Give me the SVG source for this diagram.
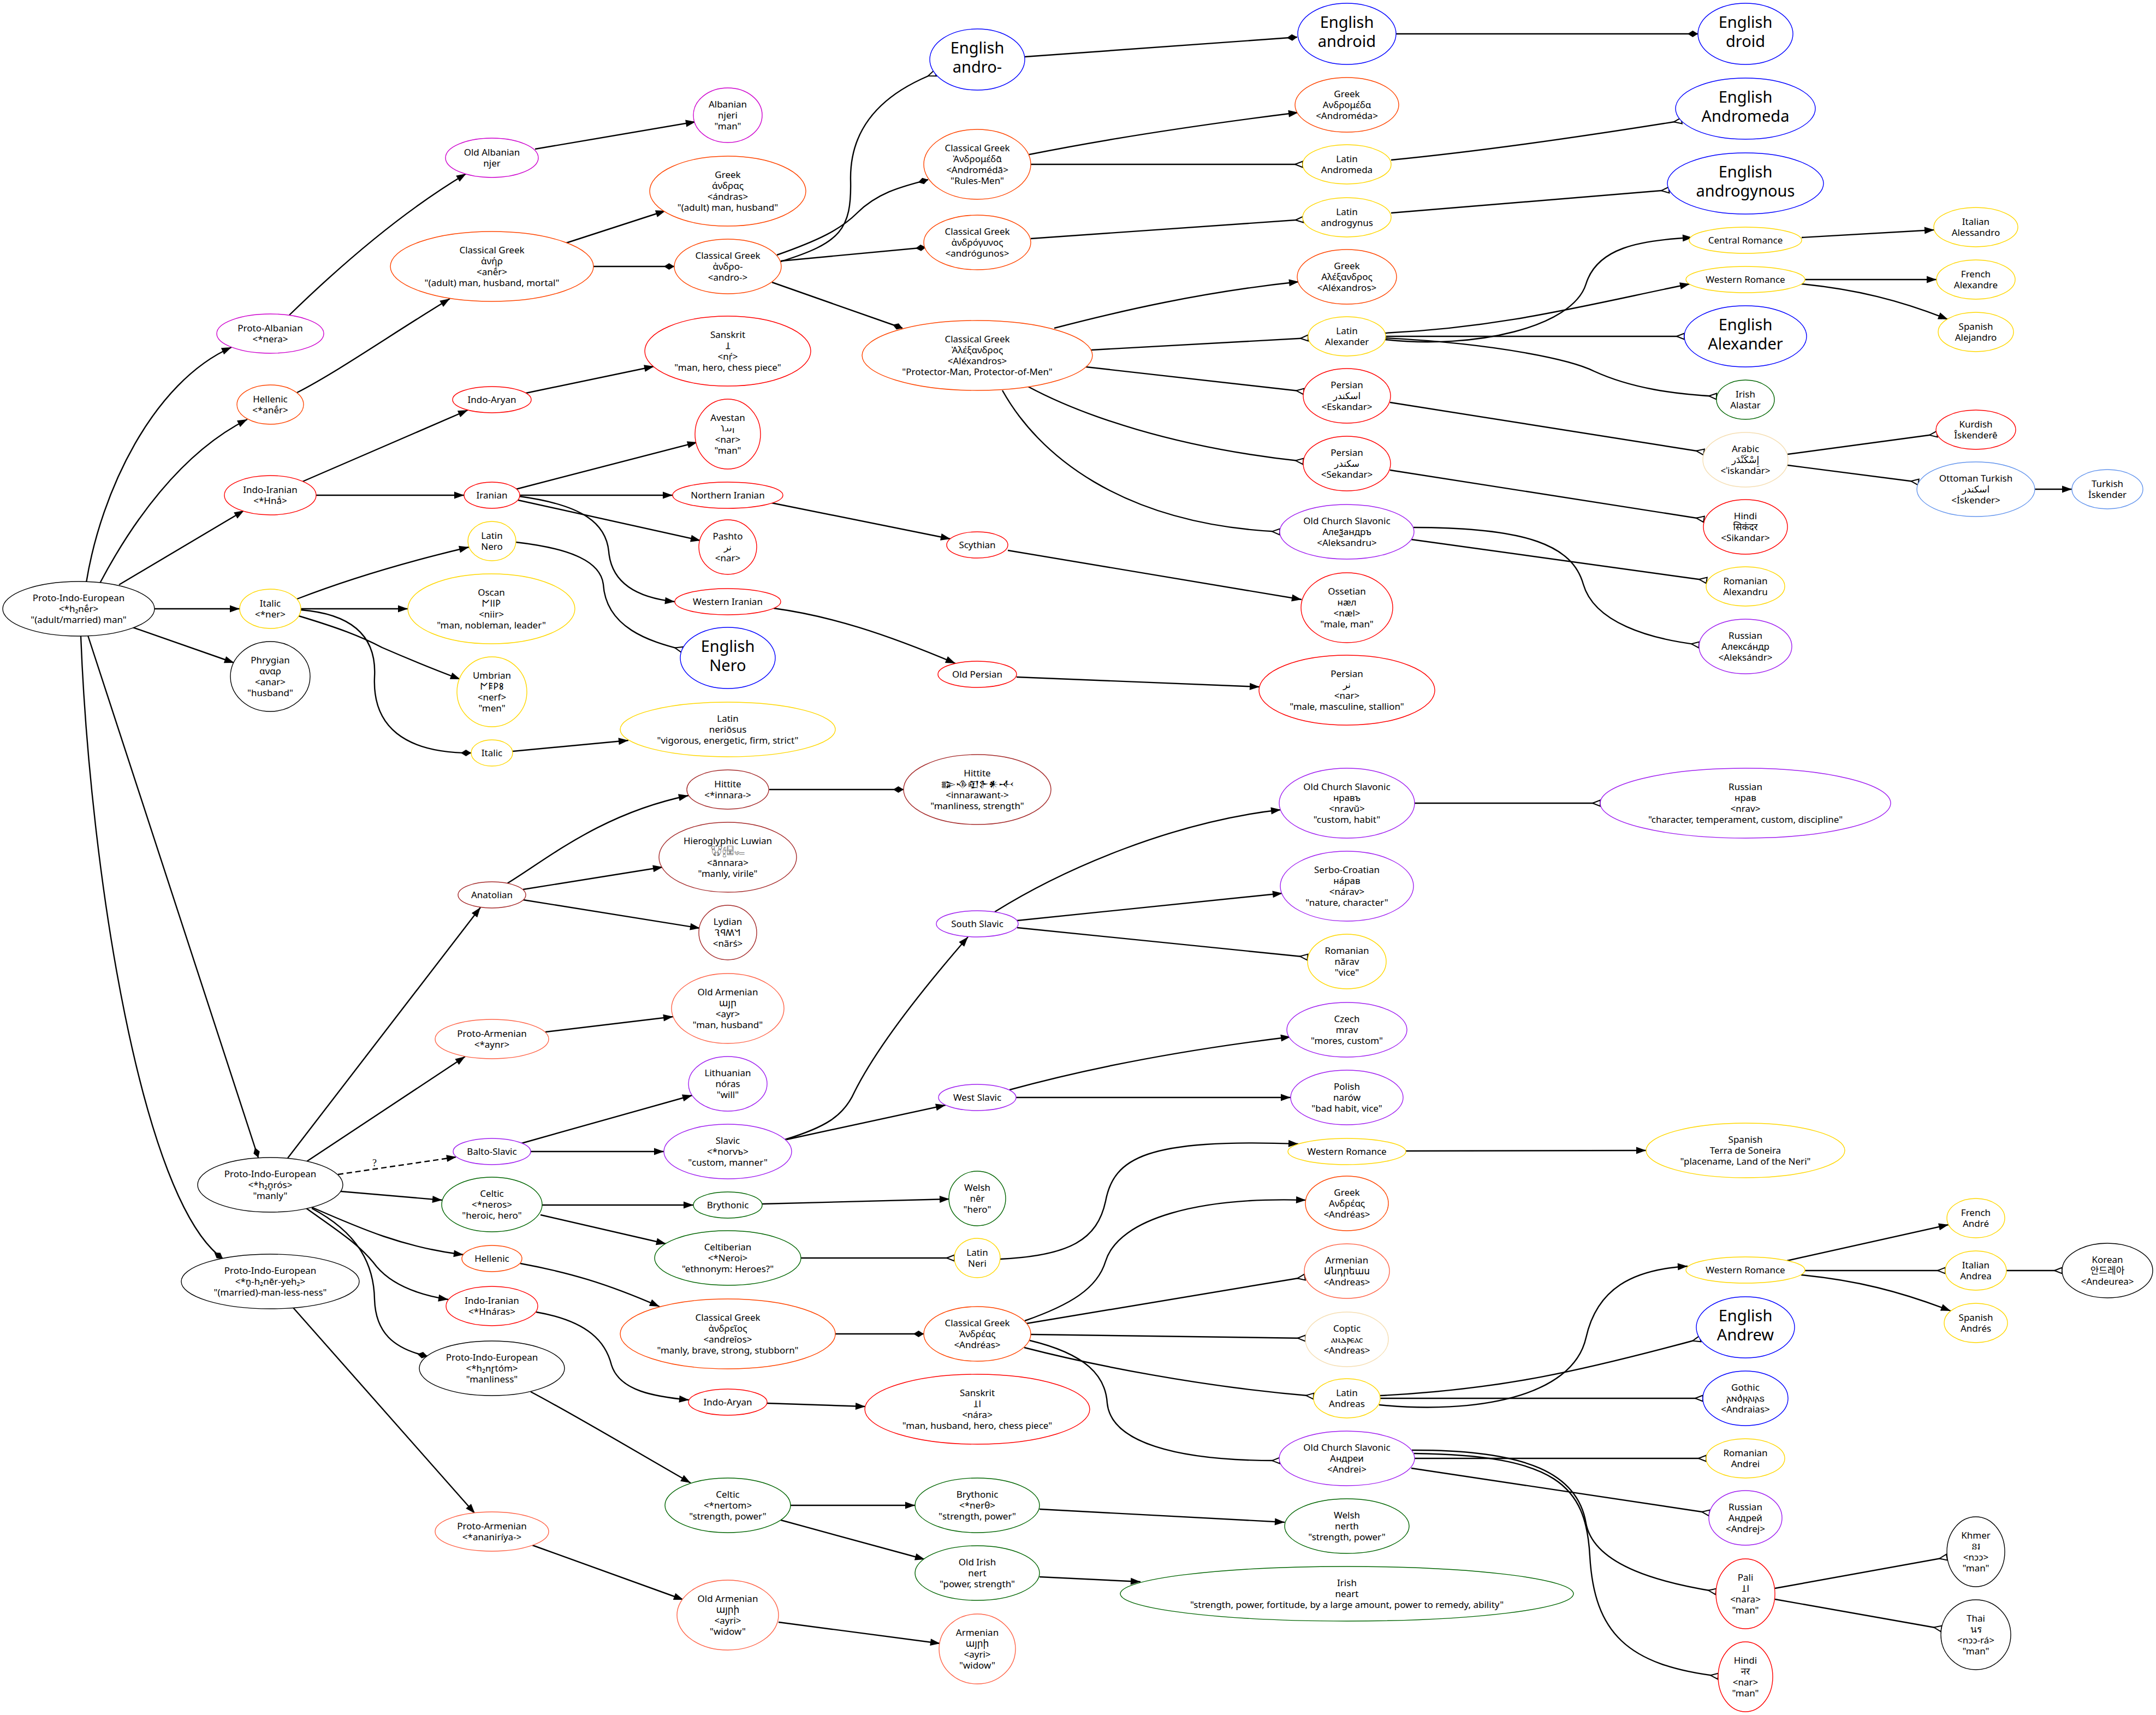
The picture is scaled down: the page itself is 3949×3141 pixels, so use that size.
<svg xmlns="http://www.w3.org/2000/svg" width="3949" height="3141" viewBox="0 0 3949 3141">
<style>
.n ellipse{fill:#fff;stroke-width:1.4}
.n text{font-family:"Noto Sans","DejaVu Sans","Noto Sans CJK KR",sans-serif;font-size:17px;text-anchor:middle;fill:#000}
.n text.big{font-size:29px}
.k{stroke:#000}.alb{stroke:#cd00cd}.grk{stroke:#ff4500}.red{stroke:#ff0000}.gold{stroke:#ffd700}.blu{stroke:#0000ff}.brn{stroke:#a52a2a}.tom{stroke:#ff6347}.pur{stroke:#a020f0}.grn{stroke:#006400}.wht{stroke:#f5deb3}.cfb{stroke:#6495ed}
#edges path{fill:none;stroke:#000;stroke-width:2.4}
#edges .a{marker-end:url(#ma)}#edges .d{marker-end:url(#md)}#edges .o{marker-end:url(#mo)}
#edges .dash{stroke-dasharray:10 6}
.lbl{font-family:"Liberation Serif",serif;font-size:18px;text-anchor:middle}
</style>
<defs>
<marker id="ma" markerUnits="userSpaceOnUse" markerWidth="20" markerHeight="14" refX="18" refY="6.5" orient="auto" overflow="visible"><path d="M0,0 L18,6.5 L0,13 z" fill="#000"/></marker>
<marker id="md" markerUnits="userSpaceOnUse" markerWidth="20" markerHeight="13" refX="19" refY="6" orient="auto" overflow="visible"><path d="M0,6 L9.5,0 L19,6 L9.5,12 z" fill="#000"/></marker>
<marker id="mo" markerUnits="userSpaceOnUse" markerWidth="16" markerHeight="13" refX="14" refY="5.5" orient="auto" overflow="visible"><path d="M0,5.5 L14,0 L14,11 z" fill="#fff" stroke="#000" stroke-width="2"/></marker>
</defs>
<rect width="3949" height="3141" fill="#fff"/>
<g id="edges">
<path class="a" d="M158,1067 C185,900 280,700 424,636"/>
<path class="a" d="M183,1068 C240,960 330,830 453,768"/>
<path class="a" d="M218,1071 L447,935"/>
<path class="a" d="M283,1115 L439,1115"/>
<path class="a" d="M243,1149 L429,1214"/>
<path class="d" d="M161,1164 L473,2120"/>
<path class="d" d="M148,1165 C165,1600 260,2200 408,2305"/>
<path class="a" d="M530,577 C640,470 750,380 854,318"/>
<path class="a" d="M980,273 L1274,223"/>
<path class="a" d="M544,719 C620,680 720,610 824,547"/>
<path class="a" d="M1037,445 L1219,386"/>
<path class="d" d="M1087,488 L1235,488"/>
<path class="o" d="M1430,479 C1540,445 1560,420 1558,330 C1556,230 1620,170 1713,134"/>
<path class="d" d="M1423,467 C1500,440 1540,420 1570,390 C1610,350 1660,340 1700,329"/>
<path class="d" d="M1430,478 L1696,453"/>
<path class="d" d="M1414,517 L1653,601"/>
<path class="d" d="M1877,104 L2376,68"/>
<path class="d" d="M2557,62 L3110,62"/>
<path class="a" d="M1885,283 C2050,250 2250,222 2378,206"/>
<path class="o" d="M1888,301 L2386,301"/>
<path class="o" d="M2548,293 C2700,278 2900,250 3080,221"/>
<path class="o" d="M1888,437 L2387,402"/>
<path class="o" d="M2548,390 L3057,348"/>
<path class="a" d="M1931,601 C2050,570 2200,535 2379,516"/>
<path class="o" d="M1999,641 L2396,619"/>
<path class="o" d="M1989,672 L2388,717"/>
<path class="o" d="M1883,708 C1980,760 2150,820 2387,845"/>
<path class="o" d="M1836,715 C1900,830 2050,960 2344,974"/>
<path class="a" d="M2536,610 C2750,600 2900,560 3095,520"/>
<path class="a" d="M2537,622 C2700,640 2880,600 2905,520 C2925,455 3000,440 3100,435"/>
<path class="o" d="M2538,616 L3085,616"/>
<path class="o" d="M2537,619 C2750,630 2880,660 2920,680 C2990,712 3070,722 3144,726"/>
<path class="a" d="M3300,435 L3543,421"/>
<path class="a" d="M3306,512 L3547,512"/>
<path class="a" d="M3299,520 C3400,530 3480,550 3568,585"/>
<path class="o" d="M2546,737 L3121,828"/>
<path class="o" d="M2546,861 L3121,951"/>
<path class="o" d="M3274,832 L3548,795"/>
<path class="o" d="M3274,852 L3514,883"/>
<path class="a" d="M3727,896 L3795,896"/>
<path class="o" d="M2585,988 L3126,1063"/>
<path class="o" d="M2589,966 C2800,966 2880,1000 2900,1070 C2920,1140 3020,1170 3112,1181"/>
<path class="a" d="M554,882 L857,751"/>
<path class="a" d="M579,907 L850,907"/>
<path class="a" d="M963,720 L1198,671"/>
<path class="a" d="M945,896 L1277,810"/>
<path class="a" d="M952,907 L1232,907"/>
<path class="a" d="M949,916 L1283,990"/>
<path class="a" d="M951,909 C1070,925 1110,960 1115,1010 C1120,1070 1170,1095 1236,1102"/>
<path class="o" d="M945,993 C1050,1005 1100,1030 1105,1070 C1110,1150 1190,1175 1250,1190"/>
<path class="a" d="M1413,921 L1741,987"/>
<path class="a" d="M1846,1008 L2384,1098"/>
<path class="a" d="M1417,1114 C1520,1128 1620,1160 1750,1215"/>
<path class="a" d="M1862,1240 L2307,1258"/>
<path class="a" d="M544,1097 C640,1060 740,1030 859,1002"/>
<path class="a" d="M551,1115 L747,1115"/>
<path class="a" d="M547,1128 C620,1150 660,1165 700,1186 C760,1212 800,1228 843,1244"/>
<path class="d" d="M551,1117 C650,1125 690,1170 686,1240 C682,1330 740,1379 863,1379"/>
<path class="a" d="M939,1376 L1151,1356"/>
<path class="a" d="M527,2121 L880,1662"/>
<path class="a" d="M562,2127 L852,1935"/>
<path class="a dash" d="M619,2151 L836,2119"/>
<text class="lbl" x="686" y="2136">?</text>
<path class="a" d="M624,2182 L810,2198"/>
<path class="a" d="M571,2211 C660,2250 740,2285 849,2298"/>
<path class="a" d="M561,2213 C620,2255 660,2280 690,2320 C720,2355 770,2372 821,2380"/>
<path class="d" d="M571,2213 C660,2260 685,2320 686,2380 C688,2440 720,2470 783,2484"/>
<path class="a" d="M537,2395 L870,2772"/>
<path class="a" d="M929,1618 C1000,1575 1100,1490 1261,1457"/>
<path class="a" d="M958,1629 L1214,1588"/>
<path class="a" d="M958,1648 L1282,1700"/>
<path class="d" d="M1409,1446 L1655,1446"/>
<path class="a" d="M999,1890 L1233,1862"/>
<path class="a" d="M955,2094 L1268,2006"/>
<path class="a" d="M972,2109 L1216,2109"/>
<path class="a" d="M1438,2087 C1510,2065 1545,2045 1565,2000 C1610,1910 1700,1800 1773,1716"/>
<path class="a" d="M1441,2087 L1732,2024"/>
<path class="a" d="M1822,1670 C1950,1590 2150,1505 2346,1483"/>
<path class="a" d="M1863,1686 L2349,1636"/>
<path class="o" d="M1863,1699 L2395,1753"/>
<path class="o" d="M2591,1471 L2931,1471"/>
<path class="a" d="M1849,1996 C1980,1960 2150,1925 2364,1899"/>
<path class="a" d="M1861,2010 L2364,2010"/>
<path class="a" d="M993,2207 L1270,2207"/>
<path class="a" d="M990,2225 L1220,2278"/>
<path class="a" d="M1396,2205 L1739,2196"/>
<path class="o" d="M1467,2304 L1748,2304"/>
<path class="a" d="M1832,2306 C1960,2300 2010,2270 2025,2200 C2040,2120 2100,2085 2378,2095"/>
<path class="a" d="M2575,2108 L3015,2107"/>
<path class="a" d="M953,2314 C1040,2330 1110,2350 1208,2393"/>
<path class="a" d="M982,2403 C1080,2420 1110,2460 1120,2500 C1135,2548 1200,2558 1262,2564"/>
<path class="a" d="M1405,2570 L1585,2576"/>
<path class="a" d="M972,2549 C1050,2590 1150,2650 1265,2716"/>
<path class="a" d="M975,2830 L1252,2930"/>
<path class="d" d="M1530,2443 L1692,2443"/>
<path class="a" d="M1448,2757 L1676,2757"/>
<path class="a" d="M1430,2784 L1694,2856"/>
<path class="a" d="M1904,2764 L2353,2788"/>
<path class="a" d="M1904,2888 L2089,2897"/>
<path class="a" d="M1426,2971 L1722,3010"/>
<path class="a" d="M1877,2419 C1960,2390 2010,2360 2025,2310 C2050,2230 2200,2192 2392,2198"/>
<path class="o" d="M1880,2424 L2390,2339"/>
<path class="o" d="M1888,2444 L2391,2451"/>
<path class="o" d="M1876,2468 C2000,2500 2200,2540 2406,2557"/>
<path class="o" d="M1886,2455 C1990,2480 2025,2520 2028,2570 C2035,2640 2150,2676 2344,2675"/>
<path class="a" d="M2526,2573 C2700,2590 2880,2560 2905,2450 C2925,2360 2990,2325 3091,2319"/>
<path class="o" d="M2528,2556 C2750,2545 2900,2510 3114,2452"/>
<path class="o" d="M2528,2561 L3119,2561"/>
<path class="o" d="M2591,2671 L3125,2671"/>
<path class="o" d="M2585,2689 L3131,2771"/>
<path class="o" d="M2586,2656 C2800,2655 2890,2700 2905,2790 C2920,2870 3050,2900 3143,2915"/>
<path class="o" d="M2590,2662 C2850,2665 2905,2720 2912,2850 C2920,2990 2980,3050 3147,3070"/>
<path class="a" d="M3273,2309 L3569,2243"/>
<path class="o" d="M3306,2327 L3563,2327"/>
<path class="a" d="M3299,2335 C3400,2345 3480,2365 3573,2401"/>
<path class="o" d="M3675,2327 L3777,2327"/>
<path class="o" d="M3251,2909 L3566,2852"/>
<path class="o" d="M3251,2929 L3556,2983"/>
</g>
<g id="n_pie" class="n"><ellipse class="k" cx="144" cy="1115" rx="139" ry="50"/><text><tspan x="144" y="1101">Proto-Indo-European</tspan><tspan x="144" y="1121">&lt;*h₂nḗr&gt;</tspan><tspan x="144" y="1141">"(adult/married) man"</tspan></text></g>
<g id="n_palb" class="n"><ellipse class="alb" cx="495" cy="611" rx="98" ry="36"/><text><tspan x="495" y="607">Proto-Albanian</tspan><tspan x="495" y="627">&lt;*nera&gt;</tspan></text></g>
<g id="n_hel1" class="n"><ellipse class="grk" cx="495" cy="741" rx="61" ry="36"/><text><tspan x="495" y="737">Hellenic</tspan><tspan x="495" y="757">&lt;*anḗr&gt;</tspan></text></g>
<g id="n_ii1" class="n"><ellipse class="red" cx="495" cy="907" rx="84" ry="36"/><text><tspan x="495" y="903">Indo-Iranian</tspan><tspan x="495" y="923">&lt;*Hnā́&gt;</tspan></text></g>
<g id="n_ita1" class="n"><ellipse class="gold" cx="495" cy="1115" rx="56" ry="36"/><text><tspan x="495" y="1111">Italic</tspan><tspan x="495" y="1131">&lt;*ner&gt;</tspan></text></g>
<g id="n_phr" class="n"><ellipse class="k" cx="495" cy="1239" rx="73" ry="64"/><text><tspan x="495" y="1215">Phrygian</tspan><tspan x="495" y="1235">αναρ</tspan><tspan x="495" y="1255">&lt;anar&gt;</tspan><tspan x="495" y="1275">"husband"</tspan></text></g>
<g id="n_pie2" class="n"><ellipse class="k" cx="495" cy="2170" rx="133" ry="50"/><text><tspan x="495" y="2156">Proto-Indo-European</tspan><tspan x="495" y="2176">&lt;*h₂n̥rós&gt;</tspan><tspan x="495" y="2196">"manly"</tspan></text></g>
<g id="n_pie3" class="n"><ellipse class="k" cx="495" cy="2347" rx="163" ry="50"/><text><tspan x="495" y="2333">Proto-Indo-European</tspan><tspan x="495" y="2353">&lt;*n̥-h₂nēr-yeh₂&gt;</tspan><tspan x="495" y="2373">"(married)-man-less-ness"</tspan></text></g>
<g id="n_oalb" class="n"><ellipse class="alb" cx="901" cy="289" rx="85" ry="36"/><text><tspan x="901" y="285">Old Albanian</tspan><tspan x="901" y="305">njer</tspan></text></g>
<g id="n_cg_aner" class="n"><ellipse class="grk" cx="901" cy="488" rx="186" ry="64"/><text><tspan x="901" y="464">Classical Greek</tspan><tspan x="901" y="484">ἀνήρ</tspan><tspan x="901" y="504">&lt;anḗr&gt;</tspan><tspan x="901" y="524">"(adult) man, husband, mortal"</tspan></text></g>
<g id="n_ia1" class="n"><ellipse class="red" cx="901" cy="732" rx="72" ry="24"/><text><tspan x="901" y="738">Indo-Aryan</tspan></text></g>
<g id="n_iran" class="n"><ellipse class="red" cx="901" cy="907" rx="51" ry="24"/><text><tspan x="901" y="913">Iranian</tspan></text></g>
<g id="n_lat_nero" class="n"><ellipse class="gold" cx="901" cy="991" rx="44" ry="36"/><text><tspan x="901" y="987">Latin</tspan><tspan x="901" y="1007">Nero</tspan></text></g>
<g id="n_oscan" class="n"><ellipse class="gold" cx="900" cy="1115" rx="153" ry="64"/><text><tspan x="900" y="1091">Oscan</tspan><tspan x="900" y="1111">𐌍𐌉𐌉𐌓</tspan><tspan x="900" y="1131">&lt;niir&gt;</tspan><tspan x="900" y="1151">"man, nobleman, leader"</tspan></text></g>
<g id="n_umbr" class="n"><ellipse class="gold" cx="901" cy="1267" rx="64" ry="64"/><text><tspan x="901" y="1243">Umbrian</tspan><tspan x="901" y="1263">𐌍𐌄𐌓𐌚</tspan><tspan x="901" y="1283">&lt;nerf&gt;</tspan><tspan x="901" y="1303">"men"</tspan></text></g>
<g id="n_ita2" class="n"><ellipse class="gold" cx="901" cy="1379" rx="38" ry="24"/><text><tspan x="901" y="1385">Italic</tspan></text></g>
<g id="n_anat" class="n"><ellipse class="brn" cx="901" cy="1639" rx="62" ry="24"/><text><tspan x="901" y="1645">Anatolian</tspan></text></g>
<g id="n_parm1" class="n"><ellipse class="tom" cx="901" cy="1903" rx="104" ry="36"/><text><tspan x="901" y="1899">Proto-Armenian</tspan><tspan x="901" y="1919">&lt;*aynr&gt;</tspan></text></g>
<g id="n_bsl" class="n"><ellipse class="pur" cx="901" cy="2109" rx="71" ry="24"/><text><tspan x="901" y="2115">Balto-Slavic</tspan></text></g>
<g id="n_celt1" class="n"><ellipse class="grn" cx="901" cy="2206" rx="92" ry="50"/><text><tspan x="901" y="2192">Celtic</tspan><tspan x="901" y="2212">&lt;*neros&gt;</tspan><tspan x="901" y="2232">"heroic, hero"</tspan></text></g>
<g id="n_hel2" class="n"><ellipse class="grk" cx="901" cy="2305" rx="55" ry="24"/><text><tspan x="901" y="2311">Hellenic</tspan></text></g>
<g id="n_ii2" class="n"><ellipse class="red" cx="901" cy="2392" rx="84" ry="36"/><text><tspan x="901" y="2388">Indo-Iranian</tspan><tspan x="901" y="2408">&lt;*Hnáras&gt;</tspan></text></g>
<g id="n_pie4" class="n"><ellipse class="k" cx="901" cy="2506" rx="133" ry="50"/><text><tspan x="901" y="2492">Proto-Indo-European</tspan><tspan x="901" y="2512">&lt;*h₂nr̥tóm&gt;</tspan><tspan x="901" y="2532">"manliness"</tspan></text></g>
<g id="n_parm2" class="n"><ellipse class="tom" cx="901" cy="2805" rx="104" ry="36"/><text><tspan x="901" y="2801">Proto-Armenian</tspan><tspan x="901" y="2821">&lt;*ananiríya-&gt;</tspan></text></g>
<g id="n_alb" class="n"><ellipse class="alb" cx="1333" cy="211" rx="63" ry="50"/><text><tspan x="1333" y="197">Albanian</tspan><tspan x="1333" y="217">njeri</tspan><tspan x="1333" y="237">"man"</tspan></text></g>
<g id="n_gr_andras" class="n"><ellipse class="grk" cx="1333" cy="350" rx="143" ry="64"/><text><tspan x="1333" y="326">Greek</tspan><tspan x="1333" y="346">άνδρας</tspan><tspan x="1333" y="366">&lt;ándras&gt;</tspan><tspan x="1333" y="386">"(adult) man, husband"</tspan></text></g>
<g id="n_cg_andro" class="n"><ellipse class="grk" cx="1333" cy="488" rx="98" ry="50"/><text><tspan x="1333" y="474">Classical Greek</tspan><tspan x="1333" y="494">ἀνδρο-</tspan><tspan x="1333" y="514">&lt;andro-&gt;</tspan></text></g>
<g id="n_skt1" class="n"><ellipse class="red" cx="1333" cy="643" rx="152" ry="64"/><text><tspan x="1333" y="619">Sanskrit</tspan><tspan x="1333" y="639">𑀦𑀾</tspan><tspan x="1333" y="659">&lt;nṛ́&gt;</tspan><tspan x="1333" y="679">"man, hero, chess piece"</tspan></text></g>
<g id="n_avest" class="n"><ellipse class="red" cx="1333" cy="795" rx="60" ry="64"/><text><tspan x="1333" y="771">Avestan</tspan><tspan x="1333" y="791">𐬥𐬀𐬭</tspan><tspan x="1333" y="811">&lt;nar&gt;</tspan><tspan x="1333" y="831">"man"</tspan></text></g>
<g id="n_niran" class="n"><ellipse class="red" cx="1333" cy="907" rx="101" ry="24"/><text><tspan x="1333" y="913">Northern Iranian</tspan></text></g>
<g id="n_pashto" class="n"><ellipse class="red" cx="1333" cy="1002" rx="53" ry="50"/><text><tspan x="1333" y="988">Pashto</tspan><tspan x="1333" y="1008">نر</tspan><tspan x="1333" y="1028">&lt;nar&gt;</tspan></text></g>
<g id="n_wiran" class="n"><ellipse class="red" cx="1333" cy="1102" rx="97" ry="24"/><text><tspan x="1333" y="1108">Western Iranian</tspan></text></g>
<g id="n_en_nero" class="n"><ellipse class="blu" cx="1333" cy="1205" rx="87" ry="56"/><text class="big"><tspan x="1333" y="1194">English</tspan><tspan x="1333" y="1229">Nero</tspan></text></g>
<g id="n_lat_nerio" class="n"><ellipse class="gold" cx="1333" cy="1336" rx="197" ry="50"/><text><tspan x="1333" y="1322">Latin</tspan><tspan x="1333" y="1342">neriōsus</tspan><tspan x="1333" y="1362">"vigorous, energetic, firm, strict"</tspan></text></g>
<g id="n_hit1" class="n"><ellipse class="brn" cx="1333" cy="1446" rx="75" ry="36"/><text><tspan x="1333" y="1442">Hittite</tspan><tspan x="1333" y="1462">&lt;*innara-&gt;</tspan></text></g>
<g id="n_luw" class="n"><ellipse class="brn" cx="1333" cy="1570" rx="126" ry="64"/><text><tspan x="1333" y="1546">Hieroglyphic Luwian</tspan><tspan x="1333" y="1566">𔐭𔑈𔔝𔒪</tspan><tspan x="1333" y="1586">&lt;ānnara&gt;</tspan><tspan x="1333" y="1606">"manly, virile"</tspan></text></g>
<g id="n_lyd" class="n"><ellipse class="brn" cx="1333" cy="1708" rx="53" ry="50"/><text><tspan x="1333" y="1694">Lydian</tspan><tspan x="1333" y="1714">𐤫𐤵𐤭𐤮</tspan><tspan x="1333" y="1734">&lt;nãrś&gt;</tspan></text></g>
<g id="n_oarm1" class="n"><ellipse class="tom" cx="1333" cy="1847" rx="103" ry="64"/><text><tspan x="1333" y="1823">Old Armenian</tspan><tspan x="1333" y="1843">այր</tspan><tspan x="1333" y="1863">&lt;ayr&gt;</tspan><tspan x="1333" y="1883">"man, husband"</tspan></text></g>
<g id="n_lith" class="n"><ellipse class="pur" cx="1333" cy="1985" rx="72" ry="50"/><text><tspan x="1333" y="1971">Lithuanian</tspan><tspan x="1333" y="1991">nóras</tspan><tspan x="1333" y="2011">"will"</tspan></text></g>
<g id="n_slav" class="n"><ellipse class="pur" cx="1333" cy="2109" rx="117" ry="50"/><text><tspan x="1333" y="2095">Slavic</tspan><tspan x="1333" y="2115">&lt;*norvъ&gt;</tspan><tspan x="1333" y="2135">"custom, manner"</tspan></text></g>
<g id="n_bryth1" class="n"><ellipse class="grn" cx="1333" cy="2207" rx="63" ry="24"/><text><tspan x="1333" y="2213">Brythonic</tspan></text></g>
<g id="n_celtib" class="n"><ellipse class="grn" cx="1333" cy="2304" rx="134" ry="50"/><text><tspan x="1333" y="2290">Celtiberian</tspan><tspan x="1333" y="2310">&lt;*Neroi&gt;</tspan><tspan x="1333" y="2330">"ethnonym: Heroes?"</tspan></text></g>
<g id="n_cg_andreios" class="n"><ellipse class="grk" cx="1333" cy="2443" rx="197" ry="64"/><text><tspan x="1333" y="2419">Classical Greek</tspan><tspan x="1333" y="2439">ἀνδρεῖος</tspan><tspan x="1333" y="2459">&lt;andreîos&gt;</tspan><tspan x="1333" y="2479">"manly, brave, strong, stubborn"</tspan></text></g>
<g id="n_ia2" class="n"><ellipse class="red" cx="1333" cy="2568" rx="72" ry="24"/><text><tspan x="1333" y="2574">Indo-Aryan</tspan></text></g>
<g id="n_celt2" class="n"><ellipse class="grn" cx="1333" cy="2757" rx="115" ry="50"/><text><tspan x="1333" y="2743">Celtic</tspan><tspan x="1333" y="2763">&lt;*nertom&gt;</tspan><tspan x="1333" y="2783">"strength, power"</tspan></text></g>
<g id="n_oarm2" class="n"><ellipse class="tom" cx="1333" cy="2958" rx="93" ry="64"/><text><tspan x="1333" y="2934">Old Armenian</tspan><tspan x="1333" y="2954">այրի</tspan><tspan x="1333" y="2974">&lt;ayri&gt;</tspan><tspan x="1333" y="2994">"widow"</tspan></text></g>
<g id="n_en_andro" class="n"><ellipse class="blu" cx="1790" cy="109" rx="87" ry="56"/><text class="big"><tspan x="1790" y="98">English</tspan><tspan x="1790" y="133">andro-</tspan></text></g>
<g id="n_cg_androm" class="n"><ellipse class="grk" cx="1790" cy="301" rx="98" ry="64"/><text><tspan x="1790" y="277">Classical Greek</tspan><tspan x="1790" y="297">Ἀνδρομέδᾱ</tspan><tspan x="1790" y="317">&lt;Andromédā&gt;</tspan><tspan x="1790" y="337">"Rules-Men"</tspan></text></g>
<g id="n_cg_androg" class="n"><ellipse class="grk" cx="1790" cy="444" rx="98" ry="50"/><text><tspan x="1790" y="430">Classical Greek</tspan><tspan x="1790" y="450">ἀνδρόγυνος</tspan><tspan x="1790" y="470">&lt;andrógunos&gt;</tspan></text></g>
<g id="n_cg_alex" class="n"><ellipse class="grk" cx="1790" cy="651" rx="211" ry="64"/><text><tspan x="1790" y="627">Classical Greek</tspan><tspan x="1790" y="647">Ἀλέξανδρος</tspan><tspan x="1790" y="667">&lt;Aléxandros&gt;</tspan><tspan x="1790" y="687">"Protector-Man, Protector-of-Men"</tspan></text></g>
<g id="n_scyth" class="n"><ellipse class="red" cx="1790" cy="998" rx="56" ry="24"/><text><tspan x="1790" y="1004">Scythian</tspan></text></g>
<g id="n_opers" class="n"><ellipse class="red" cx="1790" cy="1235" rx="72" ry="24"/><text><tspan x="1790" y="1241">Old Persian</tspan></text></g>
<g id="n_hit2" class="n"><ellipse class="brn" cx="1790" cy="1446" rx="135" ry="64"/><text><tspan x="1790" y="1422">Hittite</tspan><tspan x="1790" y="1442">𒅔𒈾𒊏𒉿𒀭𒋾</tspan><tspan x="1790" y="1462">&lt;innarawant-&gt;</tspan><tspan x="1790" y="1482">"manliness, strength"</tspan></text></g>
<g id="n_sslav" class="n"><ellipse class="pur" cx="1790" cy="1692" rx="75" ry="24"/><text><tspan x="1790" y="1698">South Slavic</tspan></text></g>
<g id="n_wslav" class="n"><ellipse class="pur" cx="1790" cy="2010" rx="71" ry="24"/><text><tspan x="1790" y="2016">West Slavic</tspan></text></g>
<g id="n_welsh1" class="n"><ellipse class="grn" cx="1790" cy="2195" rx="52" ry="50"/><text><tspan x="1790" y="2181">Welsh</tspan><tspan x="1790" y="2201">nêr</tspan><tspan x="1790" y="2221">"hero"</tspan></text></g>
<g id="n_lat_neri" class="n"><ellipse class="gold" cx="1790" cy="2304" rx="42" ry="36"/><text><tspan x="1790" y="2300">Latin</tspan><tspan x="1790" y="2320">Neri</tspan></text></g>
<g id="n_cg_andreas" class="n"><ellipse class="grk" cx="1790" cy="2443" rx="98" ry="50"/><text><tspan x="1790" y="2429">Classical Greek</tspan><tspan x="1790" y="2449">Ἀνδρέας</tspan><tspan x="1790" y="2469">&lt;Andréas&gt;</tspan></text></g>
<g id="n_skt2" class="n"><ellipse class="red" cx="1790" cy="2581" rx="206" ry="64"/><text><tspan x="1790" y="2557">Sanskrit</tspan><tspan x="1790" y="2577">𑀦𑀭</tspan><tspan x="1790" y="2597">&lt;nára&gt;</tspan><tspan x="1790" y="2617">"man, husband, hero, chess piece"</tspan></text></g>
<g id="n_bryth2" class="n"><ellipse class="grn" cx="1790" cy="2757" rx="114" ry="50"/><text><tspan x="1790" y="2743">Brythonic</tspan><tspan x="1790" y="2763">&lt;*nerθ&gt;</tspan><tspan x="1790" y="2783">"strength, power"</tspan></text></g>
<g id="n_oir" class="n"><ellipse class="grn" cx="1790" cy="2881" rx="114" ry="50"/><text><tspan x="1790" y="2867">Old Irish</tspan><tspan x="1790" y="2887">nert</tspan><tspan x="1790" y="2907">"power, strength"</tspan></text></g>
<g id="n_arm2" class="n"><ellipse class="tom" cx="1790" cy="3020" rx="70" ry="64"/><text><tspan x="1790" y="2996">Armenian</tspan><tspan x="1790" y="3016">այրի</tspan><tspan x="1790" y="3036">&lt;ayri&gt;</tspan><tspan x="1790" y="3056">"widow"</tspan></text></g>
<g id="n_en_android" class="n"><ellipse class="blu" cx="2467" cy="62" rx="90" ry="56"/><text class="big"><tspan x="2467" y="51">English</tspan><tspan x="2467" y="86">android</tspan></text></g>
<g id="n_gr_androm" class="n"><ellipse class="grk" cx="2467" cy="192" rx="95" ry="50"/><text><tspan x="2467" y="178">Greek</tspan><tspan x="2467" y="198">Ανδρομέδα</tspan><tspan x="2467" y="218">&lt;Androméda&gt;</tspan></text></g>
<g id="n_lat_androm" class="n"><ellipse class="gold" cx="2467" cy="301" rx="81" ry="36"/><text><tspan x="2467" y="297">Latin</tspan><tspan x="2467" y="317">Andromeda</tspan></text></g>
<g id="n_lat_androg" class="n"><ellipse class="gold" cx="2467" cy="398" rx="81" ry="36"/><text><tspan x="2467" y="394">Latin</tspan><tspan x="2467" y="414">androgynus</tspan></text></g>
<g id="n_gr_alex" class="n"><ellipse class="grk" cx="2467" cy="507" rx="91" ry="50"/><text><tspan x="2467" y="493">Greek</tspan><tspan x="2467" y="513">Αλέξανδρος</tspan><tspan x="2467" y="533">&lt;Aléxandros&gt;</tspan></text></g>
<g id="n_lat_alex" class="n"><ellipse class="gold" cx="2467" cy="616" rx="71" ry="36"/><text><tspan x="2467" y="612">Latin</tspan><tspan x="2467" y="632">Alexander</tspan></text></g>
<g id="n_pers_esk" class="n"><ellipse class="red" cx="2467" cy="725" rx="80" ry="50"/><text><tspan x="2467" y="711">Persian</tspan><tspan x="2467" y="731">اسکندر</tspan><tspan x="2467" y="751">&lt;Eskandar&gt;</tspan></text></g>
<g id="n_pers_sek" class="n"><ellipse class="red" cx="2467" cy="849" rx="80" ry="50"/><text><tspan x="2467" y="835">Persian</tspan><tspan x="2467" y="855">سکندر</tspan><tspan x="2467" y="875">&lt;Sekandar&gt;</tspan></text></g>
<g id="n_ocs_alex" class="n"><ellipse class="pur" cx="2467" cy="974" rx="123" ry="50"/><text><tspan x="2467" y="960">Old Church Slavonic</tspan><tspan x="2467" y="980">Алеѯандръ</tspan><tspan x="2467" y="1000">&lt;Aleksandru&gt;</tspan></text></g>
<g id="n_osset" class="n"><ellipse class="red" cx="2467" cy="1113" rx="84" ry="64"/><text><tspan x="2467" y="1089">Ossetian</tspan><tspan x="2467" y="1109">нæл</tspan><tspan x="2467" y="1129">&lt;næl&gt;</tspan><tspan x="2467" y="1149">"male, man"</tspan></text></g>
<g id="n_pers_nar" class="n"><ellipse class="red" cx="2467" cy="1264" rx="161" ry="64"/><text><tspan x="2467" y="1240">Persian</tspan><tspan x="2467" y="1260">نر</tspan><tspan x="2467" y="1280">&lt;nar&gt;</tspan><tspan x="2467" y="1300">"male, masculine, stallion"</tspan></text></g>
<g id="n_ocs_nrav" class="n"><ellipse class="pur" cx="2467" cy="1471" rx="124" ry="64"/><text><tspan x="2467" y="1447">Old Church Slavonic</tspan><tspan x="2467" y="1467">нравъ</tspan><tspan x="2467" y="1487">&lt;nravŭ&gt;</tspan><tspan x="2467" y="1507">"custom, habit"</tspan></text></g>
<g id="n_serbo" class="n"><ellipse class="pur" cx="2467" cy="1623" rx="122" ry="64"/><text><tspan x="2467" y="1599">Serbo-Croatian</tspan><tspan x="2467" y="1619">на́рав</tspan><tspan x="2467" y="1639">&lt;nárav&gt;</tspan><tspan x="2467" y="1659">"nature, character"</tspan></text></g>
<g id="n_rom_narav" class="n"><ellipse class="gold" cx="2467" cy="1761" rx="72" ry="50"/><text><tspan x="2467" y="1747">Romanian</tspan><tspan x="2467" y="1767">nărav</tspan><tspan x="2467" y="1787">"vice"</tspan></text></g>
<g id="n_czech" class="n"><ellipse class="pur" cx="2467" cy="1886" rx="110" ry="50"/><text><tspan x="2467" y="1872">Czech</tspan><tspan x="2467" y="1892">mrav</tspan><tspan x="2467" y="1912">"mores, custom"</tspan></text></g>
<g id="n_polish" class="n"><ellipse class="pur" cx="2467" cy="2010" rx="103" ry="50"/><text><tspan x="2467" y="1996">Polish</tspan><tspan x="2467" y="2016">narów</tspan><tspan x="2467" y="2036">"bad habit, vice"</tspan></text></g>
<g id="n_wrom_neri" class="n"><ellipse class="gold" cx="2467" cy="2109" rx="108" ry="24"/><text><tspan x="2467" y="2115">Western Romance</tspan></text></g>
<g id="n_gr_andreas" class="n"><ellipse class="grk" cx="2467" cy="2204" rx="76" ry="50"/><text><tspan x="2467" y="2190">Greek</tspan><tspan x="2467" y="2210">Ανδρέας</tspan><tspan x="2467" y="2230">&lt;Andréas&gt;</tspan></text></g>
<g id="n_arm_andreas" class="n"><ellipse class="tom" cx="2467" cy="2328" rx="78" ry="50"/><text><tspan x="2467" y="2314">Armenian</tspan><tspan x="2467" y="2334">Անդրեաս</tspan><tspan x="2467" y="2354">&lt;Andreas&gt;</tspan></text></g>
<g id="n_coptic" class="n"><ellipse class="wht" cx="2467" cy="2453" rx="76" ry="50"/><text><tspan x="2467" y="2439">Coptic</tspan><tspan x="2467" y="2459">ⲁⲛⲇⲣⲉⲁⲥ</tspan><tspan x="2467" y="2479">&lt;Andreas&gt;</tspan></text></g>
<g id="n_lat_andreas" class="n"><ellipse class="gold" cx="2467" cy="2561" rx="61" ry="36"/><text><tspan x="2467" y="2557">Latin</tspan><tspan x="2467" y="2577">Andreas</tspan></text></g>
<g id="n_ocs_andrei" class="n"><ellipse class="pur" cx="2467" cy="2671" rx="124" ry="50"/><text><tspan x="2467" y="2657">Old Church Slavonic</tspan><tspan x="2467" y="2677">Андреи</tspan><tspan x="2467" y="2697">&lt;Andrei&gt;</tspan></text></g>
<g id="n_welsh2" class="n"><ellipse class="grn" cx="2467" cy="2795" rx="114" ry="50"/><text><tspan x="2467" y="2781">Welsh</tspan><tspan x="2467" y="2801">nerth</tspan><tspan x="2467" y="2821">"strength, power"</tspan></text></g>
<g id="n_irish" class="n"><ellipse class="grn" cx="2467" cy="2919" rx="415" ry="50"/><text><tspan x="2467" y="2905">Irish</tspan><tspan x="2467" y="2925">neart</tspan><tspan x="2467" y="2945">"strength, power, fortitude, by a large amount, power to remedy, ability"</tspan></text></g>
<g id="n_en_droid" class="n"><ellipse class="blu" cx="3197" cy="62" rx="87" ry="56"/><text class="big"><tspan x="3197" y="51">English</tspan><tspan x="3197" y="86">droid</tspan></text></g>
<g id="n_en_androm" class="n"><ellipse class="blu" cx="3197" cy="199" rx="128" ry="56"/><text class="big"><tspan x="3197" y="188">English</tspan><tspan x="3197" y="223">Andromeda</tspan></text></g>
<g id="n_en_androg" class="n"><ellipse class="blu" cx="3197" cy="336" rx="143" ry="56"/><text class="big"><tspan x="3197" y="325">English</tspan><tspan x="3197" y="360">androgynous</tspan></text></g>
<g id="n_crom" class="n"><ellipse class="gold" cx="3197" cy="440" rx="103" ry="24"/><text><tspan x="3197" y="446">Central Romance</tspan></text></g>
<g id="n_wrom_alex" class="n"><ellipse class="gold" cx="3197" cy="512" rx="109" ry="24"/><text><tspan x="3197" y="518">Western Romance</tspan></text></g>
<g id="n_en_alex" class="n"><ellipse class="blu" cx="3197" cy="616" rx="112" ry="56"/><text class="big"><tspan x="3197" y="605">English</tspan><tspan x="3197" y="640">Alexander</tspan></text></g>
<g id="n_irish_alastar" class="n"><ellipse class="grn" cx="3197" cy="732" rx="53" ry="36"/><text><tspan x="3197" y="728">Irish</tspan><tspan x="3197" y="748">Alastar</tspan></text></g>
<g id="n_arabic" class="n"><ellipse class="wht" cx="3197" cy="842" rx="78" ry="50"/><text><tspan x="3197" y="828">Arabic</tspan><tspan x="3197" y="848">إِسْكَنْدَر</tspan><tspan x="3197" y="868">&lt;ʾiskandar&gt;</tspan></text></g>
<g id="n_hindi_sik" class="n"><ellipse class="red" cx="3197" cy="965" rx="77" ry="50"/><text><tspan x="3197" y="951">Hindi</tspan><tspan x="3197" y="971">सिकंदर</tspan><tspan x="3197" y="991">&lt;Sikandar&gt;</tspan></text></g>
<g id="n_rom_alexandru" class="n"><ellipse class="gold" cx="3197" cy="1074" rx="72" ry="36"/><text><tspan x="3197" y="1070">Romanian</tspan><tspan x="3197" y="1090">Alexandru</tspan></text></g>
<g id="n_rus_alex" class="n"><ellipse class="pur" cx="3197" cy="1184" rx="85" ry="50"/><text><tspan x="3197" y="1170">Russian</tspan><tspan x="3197" y="1190">Алекса́ндр</tspan><tspan x="3197" y="1210">&lt;Aleksándr&gt;</tspan></text></g>
<g id="n_rus_nrav" class="n"><ellipse class="pur" cx="3197" cy="1471" rx="266" ry="64"/><text><tspan x="3197" y="1447">Russian</tspan><tspan x="3197" y="1467">нрав</tspan><tspan x="3197" y="1487">&lt;nrav&gt;</tspan><tspan x="3197" y="1507">"character, temperament, custom, discipline"</tspan></text></g>
<g id="n_sp_terra" class="n"><ellipse class="gold" cx="3197" cy="2107" rx="182" ry="50"/><text><tspan x="3197" y="2093">Spanish</tspan><tspan x="3197" y="2113">Terra de Soneira</tspan><tspan x="3197" y="2133">"placename, Land of the Neri"</tspan></text></g>
<g id="n_wrom_andreas" class="n"><ellipse class="gold" cx="3197" cy="2326" rx="109" ry="24"/><text><tspan x="3197" y="2332">Western Romance</tspan></text></g>
<g id="n_en_andrew" class="n"><ellipse class="blu" cx="3197" cy="2431" rx="90" ry="56"/><text class="big"><tspan x="3197" y="2420">English</tspan><tspan x="3197" y="2455">Andrew</tspan></text></g>
<g id="n_gothic" class="n"><ellipse class="blu" cx="3197" cy="2561" rx="78" ry="50"/><text><tspan x="3197" y="2547">Gothic</tspan><tspan x="3197" y="2567">𐌰𐌽𐌳𐍂𐌰𐌹𐌰𐍃</tspan><tspan x="3197" y="2587">&lt;Andraias&gt;</tspan></text></g>
<g id="n_rom_andrei" class="n"><ellipse class="gold" cx="3197" cy="2671" rx="72" ry="36"/><text><tspan x="3197" y="2667">Romanian</tspan><tspan x="3197" y="2687">Andrei</tspan></text></g>
<g id="n_rus_andrej" class="n"><ellipse class="pur" cx="3197" cy="2780" rx="67" ry="50"/><text><tspan x="3197" y="2766">Russian</tspan><tspan x="3197" y="2786">Андрей</tspan><tspan x="3197" y="2806">&lt;Andrej&gt;</tspan></text></g>
<g id="n_pali" class="n"><ellipse class="red" cx="3197" cy="2919" rx="54" ry="64"/><text><tspan x="3197" y="2895">Pali</tspan><tspan x="3197" y="2915">𑀦𑀭</tspan><tspan x="3197" y="2935">&lt;nara&gt;</tspan><tspan x="3197" y="2955">"man"</tspan></text></g>
<g id="n_hindi_nar" class="n"><ellipse class="red" cx="3197" cy="3071" rx="50" ry="64"/><text><tspan x="3197" y="3047">Hindi</tspan><tspan x="3197" y="3067">नर</tspan><tspan x="3197" y="3087">&lt;nar&gt;</tspan><tspan x="3197" y="3107">"man"</tspan></text></g>
<g id="n_it_aless" class="n"><ellipse class="gold" cx="3619" cy="416" rx="77" ry="36"/><text><tspan x="3619" y="412">Italian</tspan><tspan x="3619" y="432">Alessandro</tspan></text></g>
<g id="n_fr_alex" class="n"><ellipse class="gold" cx="3619" cy="512" rx="72" ry="36"/><text><tspan x="3619" y="508">French</tspan><tspan x="3619" y="528">Alexandre</tspan></text></g>
<g id="n_sp_alej" class="n"><ellipse class="gold" cx="3619" cy="608" rx="69" ry="36"/><text><tspan x="3619" y="604">Spanish</tspan><tspan x="3619" y="624">Alejandro</tspan></text></g>
<g id="n_kurd" class="n"><ellipse class="red" cx="3619" cy="787" rx="73" ry="36"/><text><tspan x="3619" y="783">Kurdish</tspan><tspan x="3619" y="803">Îskenderê</tspan></text></g>
<g id="n_ottoman" class="n"><ellipse class="cfb" cx="3619" cy="896" rx="108" ry="50"/><text><tspan x="3619" y="882">Ottoman Turkish</tspan><tspan x="3619" y="902">اسكندر</tspan><tspan x="3619" y="922">&lt;İskender&gt;</tspan></text></g>
<g id="n_fr_andre" class="n"><ellipse class="gold" cx="3619" cy="2231" rx="53" ry="36"/><text><tspan x="3619" y="2227">French</tspan><tspan x="3619" y="2247">André</tspan></text></g>
<g id="n_it_andrea" class="n"><ellipse class="gold" cx="3619" cy="2327" rx="56" ry="36"/><text><tspan x="3619" y="2323">Italian</tspan><tspan x="3619" y="2343">Andrea</tspan></text></g>
<g id="n_sp_andres" class="n"><ellipse class="gold" cx="3619" cy="2423" rx="58" ry="36"/><text><tspan x="3619" y="2419">Spanish</tspan><tspan x="3619" y="2439">Andrés</tspan></text></g>
<g id="n_khmer" class="n"><ellipse class="k" cx="3619" cy="2842" rx="53" ry="64"/><text><tspan x="3619" y="2818">Khmer</tspan><tspan x="3619" y="2838">នរ</tspan><tspan x="3619" y="2858">&lt;nɔɔ&gt;</tspan><tspan x="3619" y="2878">"man"</tspan></text></g>
<g id="n_thai" class="n"><ellipse class="k" cx="3619" cy="2994" rx="64" ry="64"/><text><tspan x="3619" y="2970">Thai</tspan><tspan x="3619" y="2990">นร</tspan><tspan x="3619" y="3010">&lt;nɔɔ-rá&gt;</tspan><tspan x="3619" y="3030">"man"</tspan></text></g>
<g id="n_turkish" class="n"><ellipse class="cfb" cx="3860" cy="896" rx="65" ry="36"/><text><tspan x="3860" y="892">Turkish</tspan><tspan x="3860" y="912">İskender</tspan></text></g>
<g id="n_korean" class="n"><ellipse class="k" cx="3860" cy="2327" rx="83" ry="50"/><text><tspan x="3860" y="2313">Korean</tspan><tspan x="3860" y="2333">안드레아</tspan><tspan x="3860" y="2353">&lt;Andeurea&gt;</tspan></text></g>
</svg>
